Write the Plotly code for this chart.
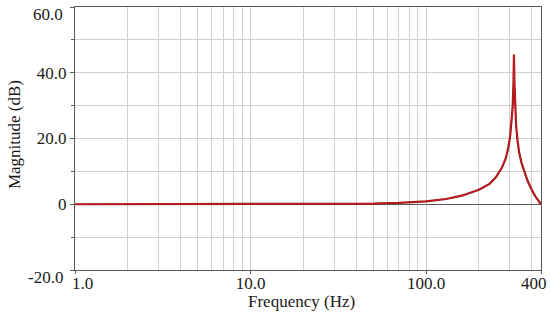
import math

import plotly.graph_objects as go

# magnitude response
freq_hz = [1, 10, 30, 50, 70, 100, 130, 160, 200, 230, 250, 270, 285, 295, 302, 308,
           312, 315, 317, 319, 322, 326, 332, 340, 350, 365, 380, 400, 420, 452]
mag_db = [0.0, 0.0, 0.1, 0.2, 0.4, 0.9, 1.6, 2.6, 4.4, 6.2, 8.2, 11.0, 14.0, 17.5, 21.0, 25.5,
          30.0, 37.0, 45.5, 37.0, 29.0, 24.0, 19.5, 15.5, 12.6, 9.4, 7.0, 4.4, 2.4, 0.0]

x_tick_vals = [1, 10, 100, 452]
x_tick_text = ['1.0', '10.0', '100.0', '400']
x_minor_vals = [2, 3, 4, 5, 6, 7, 8, 9, 20, 30, 40, 50, 60, 70, 80, 90, 200, 300, 400]
y_tick_vals = [-20, 0, 20, 40, 60]
y_tick_text = ['-20.0', '0', '20.0', '40.0', '60.0']

FONT = 'Liberation Serif'
GRID = '#cfcfcf'
AXIS = '#5a5a5a'
TEXT = '#1a1a1a'
SIZE = 17

fig = go.Figure()
fig.add_trace(go.Scatter(x=freq_hz, y=mag_db, mode='lines', cliponaxis=False,
                         line=dict(color='#8a1f1f', width=2.2), hoverinfo='skip'))
fig.add_trace(go.Scatter(x=freq_hz, y=mag_db, mode='lines', cliponaxis=False,
                         line=dict(color='#e0141b', width=0.9)))

tick_font = dict(family=FONT, size=SIZE, color=TEXT)


def blank_ends(texts):
    return ['' if i in (0, len(texts) - 1) else t for i, t in enumerate(texts)]


# the end labels of both axes are nudged off their ticks, as in the reference
edge_labels = [
    dict(text=x_tick_text[0], xref='x', yref='paper', x=math.log10(x_tick_vals[0]), y=0,
         xanchor='center', yanchor='middle', xshift=7, yshift=-13),
    dict(text=x_tick_text[-1], xref='x', yref='paper', x=math.log10(x_tick_vals[-1]), y=0,
         xanchor='center', yanchor='middle', xshift=-7, yshift=-13),
    dict(text=y_tick_text[0], xref='paper', yref='y', x=0, y=y_tick_vals[0],
         xanchor='right', yanchor='middle', xshift=-10, yshift=-7),
    dict(text=y_tick_text[-1], xref='paper', yref='y', x=0, y=y_tick_vals[-1],
         xanchor='right', yanchor='middle', xshift=-10, yshift=-7),
]
for a in edge_labels:
    a.update(showarrow=False, font=tick_font)

fig.update_layout(
    width=550, height=315,
    margin=dict(l=75, r=9, t=7, b=45),
    paper_bgcolor='white', plot_bgcolor='white',
    showlegend=False,
    font=dict(family=FONT, size=SIZE, color=TEXT),
    xaxis=dict(
        type='log', range=[0, math.log10(452)], automargin=False,
        tickmode='array', tickvals=x_tick_vals, ticktext=blank_ends(x_tick_text),
        tickfont=tick_font, ticklabeloverflow='allow', ticklabelstandoff=-5,
        ticks='outside', ticklen=3, tickcolor=AXIS,
        showgrid=True, gridcolor=GRID, gridwidth=1,
        minor=dict(tickmode='array', tickvals=x_minor_vals, showgrid=True,
                   gridcolor=GRID, ticks='', ticklen=0),
        showline=True, linecolor=AXIS, linewidth=1, mirror=True,
        zeroline=False,
    ),
    yaxis=dict(
        range=[-20, 60], automargin=False,
        tickmode='array', tickvals=y_tick_vals, ticktext=blank_ends(y_tick_text),
        tickfont=tick_font, ticklabeloverflow='allow',
        ticks='outside', ticklen=4, tickcolor=AXIS,
        showgrid=True, gridcolor=GRID, gridwidth=1,
        minor=dict(dtick=10, showgrid=True, gridcolor=GRID,
                   ticks='outside', ticklen=3, tickcolor=AXIS),
        showline=True, linecolor=AXIS, linewidth=1, mirror=True,
        zeroline=True, zerolinecolor=AXIS, zerolinewidth=1,
    ),
    annotations=edge_labels + [
        dict(text='Frequency (Hz)', xref='paper', yref='paper', x=0.487, y=0,
             xanchor='center', yanchor='middle', yshift=-31, showarrow=False,
             font=dict(family=FONT, size=SIZE, color=TEXT)),
        dict(text='Magnitude (dB)', xref='paper', yref='paper', x=0, y=0.513,
             xanchor='center', yanchor='middle', xshift=-61, textangle=-90,
             showarrow=False, font=dict(family=FONT, size=SIZE, color=TEXT)),
    ],
)

# the page's default body margin would shift the chart by 8px
fig.write_html('out.html', config={'displayModeBar': False},
               post_script="document.body.style.margin='0';")
